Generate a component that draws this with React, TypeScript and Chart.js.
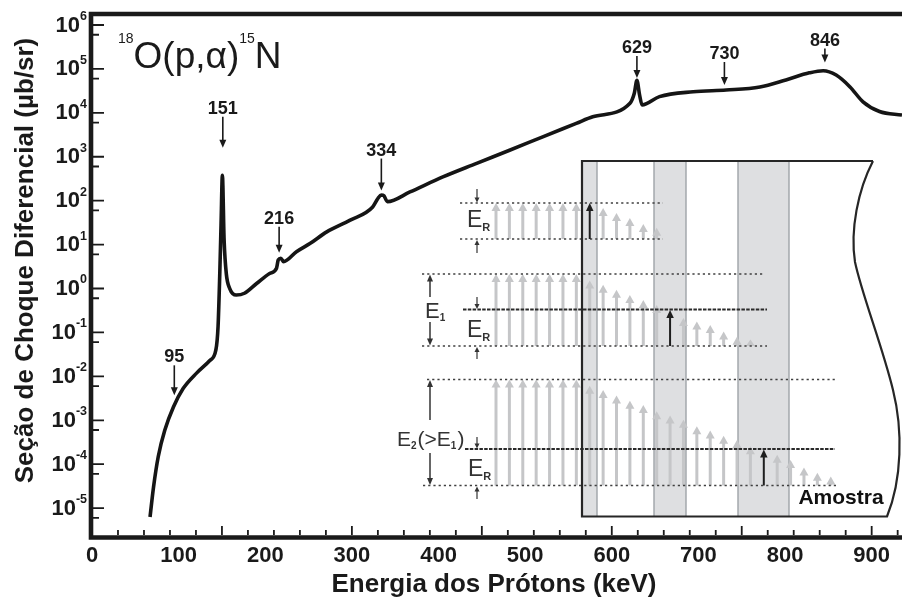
import { useEffect, useRef } from "react";
import { Chart, registerables } from "chart.js";

Chart.register(...registerables);

// Proton energy (keV) and differential cross section (µb/sr) of 18O(p,α)15N
const energies = [
  67, 71, 76.5, 84, 94, 105, 121, 136, 143, 145.5,
  147.5, 149, 150.5, 152.5, 155, 159, 166.5, 176, 190, 205,
  213, 215, 218, 221, 236, 252, 271, 298, 324, 330,
  334, 337, 341, 367, 405, 444, 482, 521, 559, 578,
  621, 626, 629, 632, 635, 655, 694, 732, 771, 801,
  828, 844, 859, 875, 890, 909, 935,
];
const sigma = [
  6.3e-6, 3.0e-5, 1.5e-4, 5.9e-4, 2.0e-3, 5.2e-3, 1.2e-2, 2.3e-2, 4.0e-2, 0.135,
  2.2, 30, 380, 12.6, 2.2, 1.0, 0.71, 0.78, 1.3, 2.2,
  2.9, 4.5, 4.9, 4.1, 6.9, 10.7, 19.5, 36, 72, 112,
  135, 129, 95, 158, 347, 708, 1410, 2880, 5750, 8130,
  16600, 28000, 55000, 26000, 15100, 23400, 30200, 33100, 38900, 56200,
  81300, 91200, 72400, 38900, 17800, 10700, 8900,
];

// Resonance markers: energy, label and the cross section the arrow points at
const resonanceEnergies = [95, 151, 216, 334, 629, 730, 846];
const resonanceLabels = ["95", "151", "216", "334", "629", "730", "846"];
const resonanceTipSigma = [3.7e-3, 1.6e3, 6.5, 1.7e2, 6.2e4, 4.3e4, 1.4e5];
const resonanceArrowLen = [30, 31, 26, 32, 22, 23, 14];

// Axis ticks
const xTickLabels = ["0", "100", "200", "300", "400", "500", "600", "700", "800", "900"];
const yTickExponents = ["6", "5", "4", "3", "2", "1", "0", "-1", "-2", "-3", "-4", "-5"];

// Schematic: remaining proton energy (fraction of row span) along the beam path
const row1Energy = [1, 1, 1, 1, 1, 1, 1, 1, 0.86, 0.72, 0.58, 0.42, 0.31];
const row2Energy = [1, 1, 1, 1, 1, 1, 1, 0.91, 0.85, 0.78, 0.71, 0.64, 0.57, 0.5, 0.39, 0.34, 0.29, 0.2, 0.13, 0.09];
const row3Energy = [
  1, 1, 1, 1, 1, 1, 1, 0.94, 0.9, 0.85, 0.8, 0.76, 0.7, 0.66, 0.62, 0.56, 0.52, 0.47, 0.43, 0.37,
  0.34, 0.29, 0.24, 0.17, 0.12, 0.085,
];

const FONT = '"Liberation Sans", Arial, Helvetica, sans-serif';
const INK = "#1a1a1a";

function drawArrow(
  ctx: CanvasRenderingContext2D,
  x: number,
  yFrom: number,
  yTip: number,
  stem: number,
  headW: number,
  headH: number,
  color: string
) {
  const dir = yTip < yFrom ? -1 : 1;
  const len = Math.abs(yTip - yFrom);
  const hh = Math.min(headH, len);
  ctx.save();
  ctx.strokeStyle = color;
  ctx.fillStyle = color;
  ctx.lineWidth = stem;
  if (len > hh) {
    ctx.beginPath();
    ctx.moveTo(x, yFrom);
    ctx.lineTo(x, yTip - dir * hh * 0.6);
    ctx.stroke();
  }
  ctx.beginPath();
  ctx.moveTo(x, yTip);
  ctx.lineTo(x - headW / 2, yTip - dir * hh);
  ctx.lineTo(x + headW / 2, yTip - dir * hh);
  ctx.closePath();
  ctx.fill();
  ctx.restore();
}

// text runs with subscripts, left aligned, vertically centred on cap height
function drawRuns(
  ctx: CanvasRenderingContext2D,
  x: number,
  yCenter: number,
  runs: [string, boolean][],
  size: number,
  color: string
) {
  ctx.save();
  ctx.fillStyle = color;
  ctx.textAlign = "left";
  ctx.textBaseline = "alphabetic";
  const base = yCenter + size * 0.36;
  let cx = x;
  for (const [t, sub] of runs) {
    ctx.font = sub ? `bold ${Math.round(size * 0.47)}px ${FONT}` : `${size}px ${FONT}`;
    ctx.fillText(t, cx, sub ? base + size * 0.16 : base);
    cx += ctx.measureText(t).width + (sub ? 1 : 0);
  }
  ctx.restore();
}

const axesPlugin = {
  id: "axesFrame",
  afterDraw(chart: any) {
    const { ctx, chartArea: ca } = chart;
    const x = chart.scales.x;
    const y = chart.scales.y;
    ctx.save();
    ctx.strokeStyle = INK;
    ctx.lineWidth = 1.8;
    ctx.beginPath();
    for (const t of x.ticks) {
      const px = x.getPixelForValue(t.value);
      const len = t.value % 50 === 0 ? 9 : 5;
      ctx.moveTo(px, ca.bottom - 2);
      ctx.lineTo(px, ca.bottom - 2 - len);
    }
    for (const t of y.ticks) {
      const py = y.getPixelForValue(t.value);
      const len = t.major ? 11 : 6;
      ctx.moveTo(ca.left + 1, py);
      ctx.lineTo(ca.left + 1 + len, py);
    }
    ctx.stroke();

    // frame: left, top and bottom
    ctx.lineWidth = 4.6;
    ctx.beginPath();
    ctx.moveTo(ca.right, ca.top);
    ctx.lineTo(ca.left - 1, ca.top);
    ctx.lineTo(ca.left - 1, ca.bottom + 0.5);
    ctx.lineTo(ca.right, ca.bottom + 0.5);
    ctx.stroke();

    // x tick labels
    ctx.fillStyle = INK;
    ctx.font = `bold 22px ${FONT}`;
    ctx.textAlign = "center";
    ctx.textBaseline = "middle";
    for (const lab of xTickLabels) {
      ctx.fillText(lab, x.getPixelForValue(Number(lab)), ca.bottom + 19);
    }

    // y tick labels 10^n
    for (const e of yTickExponents) {
      const py = y.getPixelForValue(Math.pow(10, Number(e)));
      ctx.font = `bold 12.5px ${FONT}`;
      ctx.textAlign = "right";
      ctx.textBaseline = "middle";
      const right = ca.left - 5;
      ctx.fillText(e, right, py - 8.5);
      const ew = ctx.measureText(e).width;
      ctx.font = `bold 22px ${FONT}`;
      ctx.fillText("10", right - ew, py + 0.5);
    }

    // axis titles
    ctx.font = `bold 26px ${FONT}`;
    ctx.textAlign = "center";
    ctx.textBaseline = "alphabetic";
    ctx.fillText("Energia dos Prótons (keV)", (ca.left + ca.right) / 2 - 3, ca.bottom + 55);
    ctx.save();
    ctx.translate(33, (ca.top + ca.bottom) / 2 - 15);
    ctx.rotate(-Math.PI / 2);
    ctx.fillText("Seção de Choque Diferencial (µb/sr)", 0, 0);
    ctx.restore();

    // reaction name
    ctx.textAlign = "left";
    let tx = ca.left + 26;
    const base = ca.top + 54;
    ctx.font = `14px ${FONT}`;
    ctx.fillText("18", tx, base - 25);
    tx += ctx.measureText("18").width;
    ctx.font = `37px ${FONT}`;
    ctx.fillText("O(p,α)", tx, base);
    tx += ctx.measureText("O(p,α)").width;
    ctx.font = `14px ${FONT}`;
    ctx.fillText("15", tx, base - 25);
    tx += ctx.measureText("15").width;
    ctx.font = `37px ${FONT}`;
    ctx.fillText("N", tx, base);
    ctx.restore();
  },
};

const resonancePlugin = {
  id: "resonances",
  afterDatasetsDraw(chart: any) {
    const { ctx } = chart;
    const x = chart.scales.x;
    const y = chart.scales.y;
    ctx.save();
    ctx.fillStyle = INK;
    ctx.font = `bold 18px ${FONT}`;
    ctx.textAlign = "center";
    ctx.textBaseline = "alphabetic";
    resonanceEnergies.forEach((e, i) => {
      const px = x.getPixelForValue(e);
      const tip = y.getPixelForValue(resonanceTipSigma[i]);
      const top = tip - resonanceArrowLen[i];
      drawArrow(ctx, px, top, tip, 1.6, 7, 8, INK);
      ctx.fillText(resonanceLabels[i], px, top - 3);
    });
    ctx.restore();
  },
};

// Layout of the target schematic, in px from the chart area's top-left corner
const sample = { left: 490, top: 147, bottom: 502.5, topRight: 781, bottomRight: 795 };
const bands = [
  [490, 505],
  [562, 594],
  [646, 697],
];
const colX0 = 404;
const colStep = 13.39;
const rows = [
  {
    energy: row1Energy, black: 7, top: 189, bottom: 225,
    lines: [
      { y: 189, x0: 368, x1: 571, dense: false },
      { y: 225, x0: 368, x1: 571, dense: false },
    ],
    erArrows: [175, 188.5, 239, 226],
    erLabel: [375, 205],
  },
  {
    energy: row2Energy, black: 13, top: 260, bottom: 332,
    lines: [
      { y: 260, x0: 330, x1: 673, dense: false },
      { y: 295.5, x0: 371, x1: 675, dense: true },
      { y: 332, x0: 330, x1: 675, dense: false },
    ],
    erArrows: [283, 295, 345, 333],
    erLabel: [375, 315],
  },
  {
    energy: row3Energy, black: 20, top: 365.5, bottom: 471.5,
    lines: [
      { y: 365.5, x0: 335, x1: 743, dense: false },
      { y: 435, x0: 373, x1: 743, dense: true },
      { y: 471.5, x0: 331, x1: 745, dense: false },
    ],
    erArrows: [423, 434.5, 485, 472.5],
    erLabel: [376, 454],
  },
];

const insetPlugin = {
  id: "targetSketch",
  afterDatasetsDraw(chart: any) {
    const { ctx, chartArea: ca } = chart;
    const X = (v: number) => ca.left + v;
    const Y = (v: number) => ca.top + v;
    ctx.save();

    const outline = () => {
      ctx.beginPath();
      ctx.moveTo(X(sample.topRight), Y(sample.top));
      ctx.lineTo(X(sample.left), Y(sample.top));
      ctx.lineTo(X(sample.left), Y(sample.bottom));
      ctx.lineTo(X(sample.bottomRight), Y(sample.bottom));
      ctx.bezierCurveTo(X(810), Y(466), X(811), Y(416), X(801), Y(376));
      ctx.bezierCurveTo(X(790), Y(331), X(770), Y(281), X(763), Y(248));
      ctx.bezierCurveTo(X(758), Y(216), X(766), Y(176), X(sample.topRight), Y(sample.top));
    };
    ctx.fillStyle = "#ffffff";
    outline();
    ctx.fill();

    // layers of the target
    for (const [a, b] of bands) {
      ctx.fillStyle = "#dedfe1";
      ctx.fillRect(X(a), Y(sample.top), b - a, sample.bottom - sample.top);
      ctx.strokeStyle = "#9fa3a8";
      ctx.lineWidth = 1.4;
      ctx.beginPath();
      ctx.moveTo(X(a), Y(sample.top));
      ctx.lineTo(X(a), Y(sample.bottom));
      ctx.moveTo(X(b), Y(sample.top));
      ctx.lineTo(X(b), Y(sample.bottom));
      ctx.stroke();
    }

    for (const r of rows) {
      const span = r.bottom - r.top;
      r.energy.forEach((h, i) => {
        if (i === r.black) return;
        const cx = X(colX0 + i * colStep);
        drawArrow(ctx, cx, Y(r.bottom), Y(r.bottom - h * span), 3, 9, 8, "#c5c6c8");
      });
      for (const l of r.lines) {
        ctx.strokeStyle = l.dense ? "#2a2a2a" : "#404040";
        ctx.lineWidth = l.dense ? 1.8 : 1.6;
        ctx.setLineDash(l.dense ? [3.5, 1.3] : [2.2, 3]);
        ctx.beginPath();
        ctx.moveTo(X(l.x0), Y(l.y));
        ctx.lineTo(X(l.x1), Y(l.y));
        ctx.stroke();
      }
      ctx.setLineDash([]);
      const bi = r.black;
      drawArrow(ctx, X(colX0 + bi * colStep), Y(r.bottom), Y(r.bottom - r.energy[bi] * span), 2, 7.5, 8, "#1e1e1e");

      const [d0, d1, u0, u1] = r.erArrows;
      drawArrow(ctx, X(385), Y(d0), Y(d1), 1.2, 5, 5, "#333");
      drawArrow(ctx, X(385), Y(u0), Y(u1), 1.2, 5, 5, "#333");
      drawRuns(ctx, X(r.erLabel[0]), Y(r.erLabel[1]), [["E", false], ["R", true]], 23, "#333");
    }

    // E1 and E2 spans
    drawArrow(ctx, X(338), Y(283), Y(260.5), 1.5, 6, 7, "#333");
    drawArrow(ctx, X(338), Y(308), Y(331.5), 1.5, 6, 7, "#333");
    drawRuns(ctx, X(333), Y(296), [["E", false], ["1", true]], 22, "#333");
    drawArrow(ctx, X(338), Y(406), Y(366), 1.5, 6, 7, "#333");
    drawArrow(ctx, X(338), Y(439), Y(471), 1.5, 6, 7, "#333");
    drawRuns(
      ctx,
      X(305),
      Y(424),
      [["E", false], ["2", true], ["(>E", false], ["1", true], [")", false]],
      21,
      "#333"
    );

    ctx.strokeStyle = "#262626";
    ctx.lineWidth = 2.2;
    outline();
    ctx.stroke();

    ctx.fillStyle = "#111";
    ctx.font = `bold 21px ${FONT}`;
    ctx.textAlign = "center";
    ctx.textBaseline = "middle";
    ctx.fillText("Amostra", X(749), Y(484));
    ctx.restore();
  },
};

export default function App() {
  const canvasRef = useRef<HTMLCanvasElement | null>(null);

  useEffect(() => {
    document.body.style.margin = "0";
    const canvas = canvasRef.current;
    if (!canvas) return;
    const chart = new Chart(canvas, {
      type: "line",
      data: {
        datasets: [
          {
            data: energies.map((e, i) => ({ x: e, y: sigma[i] })),
            borderColor: "#151515",
            borderWidth: 3.6,
            pointRadius: 0,
            cubicInterpolationMode: "monotone",
            fill: false,
          },
        ],
      },
      options: {
        animation: false,
        responsive: false,
        events: [],
        layout: { padding: { left: 92, top: 14, right: 0, bottom: 69 } },
        plugins: { legend: { display: false }, tooltip: { enabled: false } },
        scales: {
          x: {
            type: "linear",
            display: false,
            min: 0,
            max: 935,
            afterBuildTicks: (s: any) => {
              const t = [];
              for (let v = 0; v <= s.max; v += 10) t.push({ value: v });
              s.ticks = t;
            },
          },
          y: {
            type: "logarithmic",
            display: false,
            min: 2.2e-6,
            max: 1.78e6,
            afterBuildTicks: (s: any) => {
              const t = [];
              const e0 = Math.floor(Math.log10(s.min));
              const e1 = Math.ceil(Math.log10(s.max));
              for (let e = e0; e <= e1; e++) {
                for (let m = 1; m <= 9; m++) {
                  const v = Number((m * Math.pow(10, e)).toPrecision(3));
                  if (v >= s.min && v <= s.max) t.push({ value: v, major: m === 1 });
                }
              }
              s.ticks = t;
            },
          },
        },
      } as any,
      plugins: [resonancePlugin, insetPlugin, axesPlugin],
    });
    return () => chart.destroy();
  }, []);

  return (
    <div style={{ width: 902, height: 606, background: "#fff" }}>
      <canvas ref={canvasRef} width={902} height={606} style={{ display: "block" }} />
    </div>
  );
}
